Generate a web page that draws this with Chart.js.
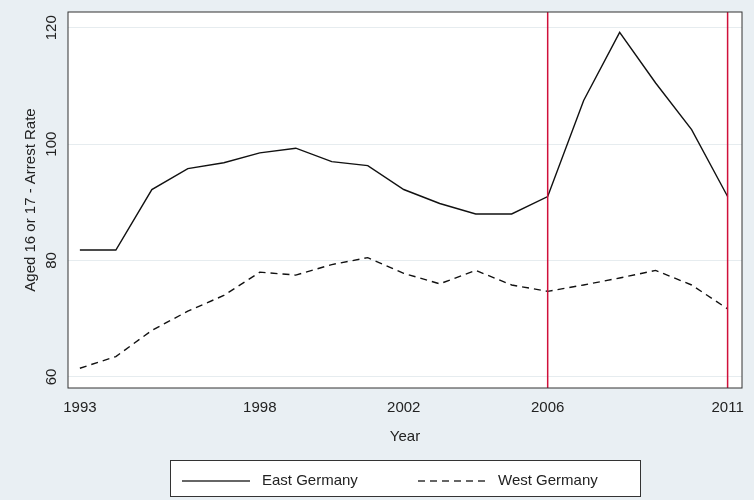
<!DOCTYPE html>
<html lang="en">
<head>
<meta charset="UTF-8">
<title>Arrest Rate</title>
<style>
  body { margin: 0; background: #e9eff3; }
  #wrap { width: 754px; height: 500px; position: relative; }
</style>
</head>
<body>
<div id="wrap"><canvas id="chart" width="754" height="500"></canvas></div>
<script src="https://cdn.jsdelivr.net/npm/chart.js"></script>
<script>
const years = [1993,1994,1995,1996,1997,1998,1999,2000,2001,2002,2003,2004,2005,2006,2007,2008,2009,2010,2011];
const eastGermany = [81.8,81.8,92.2,95.8,96.8,98.5,99.3,97,96.3,92.2,89.8,88,88,91,107.5,119.2,110.5,102.5,91];
const westGermany = [61.5,63.5,68,71.3,74,78,77.5,79.3,80.5,77.8,76,78.3,75.8,74.7,75.8,77,78.3,75.8,71.7];
const xTicks = [1993,1998,2002,2006,2011];
const yTicks = [60,80,100,120];
const markerYears = [2006,2011];
const seriesNames = ['East Germany','West Germany'];

const font = '15px "Liberation Sans", Arial, sans-serif';

const extras = {
  id: 'extras',
  beforeDraw(chart) {
    const { ctx, chartArea: a } = chart;
    ctx.save();
    ctx.fillStyle = '#ffffff';
    ctx.fillRect(a.left, a.top, a.right - a.left, a.bottom - a.top);
    ctx.restore();
  },
  afterDatasetsDraw(chart) {
    const { ctx, chartArea: a, scales } = chart;
    ctx.save();
    ctx.strokeStyle = '#d0103a';
    ctx.lineWidth = 1.5;
    markerYears.forEach(y => {
      const px = scales.x.getPixelForValue(y);
      ctx.beginPath(); ctx.moveTo(px, a.top); ctx.lineTo(px, a.bottom); ctx.stroke();
    });
    ctx.strokeStyle = '#333';
    ctx.lineWidth = 1;
    ctx.strokeRect(a.left, a.top, a.right - a.left, a.bottom - a.top);
    // y tick labels, rotated
    ctx.fillStyle = '#222';
    ctx.font = font;
    ctx.textAlign = 'center';
    ctx.textBaseline = 'bottom';
    yTicks.forEach(v => {
      const py = scales.y.getPixelForValue(v);
      ctx.save();
      ctx.translate(a.left - 9, py);
      ctx.rotate(-Math.PI / 2);
      ctx.fillText(String(v), 0, 0);
      ctx.restore();
    });
    // legend
    const lx = 170, ly = 460, lw = 470, lh = 36;
    ctx.fillStyle = '#fff';
    ctx.fillRect(lx, ly, lw, lh);
    ctx.strokeStyle = '#333';
    ctx.strokeRect(lx + 0.5, ly + 0.5, lw, lh);
    const cy = ly + lh / 2 + 3;
    ctx.lineWidth = 1.3;
    ctx.beginPath(); ctx.moveTo(182, cy); ctx.lineTo(250, cy); ctx.stroke();
    ctx.setLineDash([7, 5]);
    ctx.beginPath(); ctx.moveTo(418, cy); ctx.lineTo(486, cy); ctx.stroke();
    ctx.setLineDash([]);
    ctx.fillStyle = '#222';
    ctx.textAlign = 'left';
    ctx.textBaseline = 'middle';
    ctx.fillText(seriesNames[0], 262, cy);
    ctx.fillText(seriesNames[1], 498, cy);
    ctx.restore();
  }
};

new Chart(document.getElementById('chart'), {
  type: 'line',
  data: {
    datasets: [
      { label: seriesNames[0], data: years.map((y, i) => ({ x: y, y: eastGermany[i] })),
        borderColor: '#111', borderWidth: 1.4, pointRadius: 0, tension: 0 },
      { label: seriesNames[1], data: years.map((y, i) => ({ x: y, y: westGermany[i] })),
        borderColor: '#111', borderWidth: 1.4, borderDash: [7, 5], pointRadius: 0, tension: 0 }
    ]
  },
  options: {
    responsive: false,
    animation: false,
    layout: { padding: { left: 18, right: 12, top: 12, bottom: 50 } },
    plugins: { legend: { display: false }, tooltip: { enabled: false } },
    scales: {
      x: {
        type: 'linear', min: 1992.67, max: 2011.4,
        afterBuildTicks: s => { s.ticks = xTicks.map(v => ({ value: v })); },
        grid: { display: false },
        border: { display: false },
        ticks: { color: '#222', font: { size: 15, family: '"Liberation Sans", Arial' }, callback: v => String(v), maxRotation: 0, autoSkip: false },
        title: { display: true, text: 'Year', color: '#222', font: { size: 15, family: '"Liberation Sans", Arial' }, padding: { top: 8 } }
      },
      y: {
        min: 58.1, max: 122.7,
        afterBuildTicks: s => { s.ticks = yTicks.map(v => ({ value: v })); },
        afterFit: s => { s.width = 50; },
        grid: { color: '#e6ecef', lineWidth: 1, drawTicks: false },
        border: { display: false },
        ticks: { callback: () => '' },
        title: { display: true, text: 'Aged 16 or 17 - Arrest Rate', color: '#222', font: { size: 15, family: '"Liberation Sans", Arial' }, padding: { bottom: 0 } }
      }
    }
  },
  plugins: [extras]
});
</script>
</body>
</html>
